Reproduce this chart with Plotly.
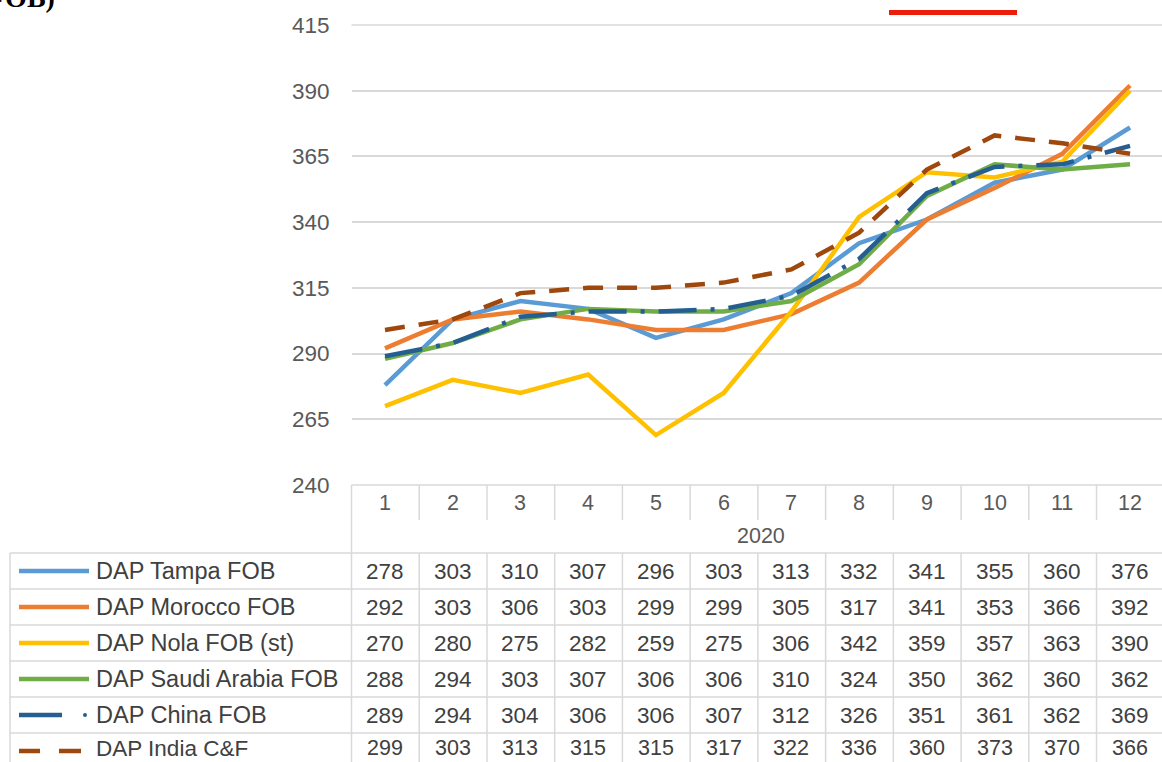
import plotly.graph_objects as go

W, H = 1162, 762
months = [1, 2, 3, 4, 5, 6, 7, 8, 9, 10, 11, 12]
year_label = "2020"
y_ticks = [240, 265, 290, 315, 340, 365, 390, 415]

names = ["DAP Tampa FOB", "DAP Morocco FOB", "DAP Nola FOB (st)",
         "DAP Saudi Arabia FOB", "DAP China FOB", "DAP India C&F"]
tampa = [278, 303, 310, 307, 296, 303, 313, 332, 341, 355, 360, 376]
morocco = [292, 303, 306, 303, 299, 299, 305, 317, 341, 353, 366, 392]
nola = [270, 280, 275, 282, 259, 275, 306, 342, 359, 357, 363, 390]
saudi = [288, 294, 303, 307, 306, 306, 310, 324, 350, 362, 360, 362]
china = [289, 294, 304, 306, 306, 307, 312, 326, 351, 361, 362, 369]
india = [299, 303, 313, 315, 315, 317, 322, 336, 360, 373, 370, 366]
series = [tampa, morocco, nola, saudi, china, india]

colors = ["#5b9bd5", "#ed7d31", "#ffc000", "#70ad47", "#255e91", "#9e480e"]
dashes = ["solid", "solid", "solid", "solid", "38px,14px,4px,14px", "20px,14px"]

def px(x):
    return x / W

def py(y):
    return 1 - y / H

# plot geometry (pixels)
PL, PR = 351.5, 1162
PT, PB = 25, 485
cat_w = 67.73
x1_px = 385
xr0 = 1 - (x1_px - PL) / cat_w
xr1 = 12 + (PR - (x1_px + 11 * cat_w)) / cat_w

fig = go.Figure()
for name, vals, c, d in zip(names, series, colors, dashes):
    fig.add_trace(go.Scatter(x=months, y=vals, mode="lines", name=name,
                             line=dict(color=c, width=4.5, dash=d),
                             showlegend=False, hoverinfo="x+y+name"))

grid = "#d9d9d9"
font_main = "Liberation Sans, Arial, sans-serif"
txt = "#404040"

fig.update_layout(
    width=W, height=H, margin=dict(l=0, r=0, t=0, b=0, pad=0, autoexpand=False),
    paper_bgcolor="white", plot_bgcolor="white",
    xaxis=dict(domain=[px(PL), 1], range=[xr0, xr1], showgrid=False,
               showticklabels=False, zeroline=False, showline=False, ticks="",
               automargin=False),
    yaxis=dict(domain=[py(PB), py(PT)], range=[240, 415], tickvals=y_ticks,
               showgrid=True, gridcolor=grid, gridwidth=1.5, zeroline=False,
               showline=False, ticks="", ticklabelstandoff=21, automargin=False,
               tickfont=dict(family=font_main, size=22.5, color="#595959")),
)

shapes = []
def hline(y, x0, x1):
    shapes.append(dict(type="line", xref="paper", yref="paper",
                       x0=px(x0), x1=px(x1), y0=py(y), y1=py(y),
                       line=dict(color=grid, width=1.5)))

def vline(x, y0, y1):
    shapes.append(dict(type="line", xref="paper", yref="paper",
                       x0=px(x), x1=px(x), y0=py(y0), y1=py(y1),
                       line=dict(color=grid, width=1.5)))

# top gridline (415) and header area
hline(PT, PL, W)
hline(485, PL, W)
hline(553, 10, W)
vline(PL, 485, 762)
for k in range(1, 12):
    vline(PL + k * cat_w, 485, 520)
# data rows
row_tops = [553, 589, 625, 661, 697, 733]
for rt in row_tops[1:]:
    hline(rt, 10, W)
vline(10, 553, 762)
for k in range(1, 12):
    vline(PL + k * cat_w, 553, 762)

def note(x, y, text, size=19, color="#595959", xanchor="center", family=font_main):
    return dict(x=px(x), y=py(y), xref="paper", yref="paper", text=text,
                showarrow=False, xanchor=xanchor, yanchor="middle",
                font=dict(family=family, size=size, color=color))

ann = []
for i, m in enumerate(months):
    ann.append(note(x1_px + i * cat_w, 503, str(m), size=21.5))
ann.append(note((PL + W) / 2 + 4, 536, year_label, size=21.5))

for r, (name, vals, c) in enumerate(zip(names, series, colors)):
    cy = row_tops[r] + 18
    last = r == len(names) - 1
    tcy = cy - 3 if last else cy          # keep the last row's text inside the page
    lab_size = 22.5 if last else 23.5
    num_size = 21.5 if last else 22.5
    # legend key
    if r == 4:
        shapes.append(dict(type="line", xref="paper", yref="paper",
                           x0=px(19), x1=px(62), y0=py(cy), y1=py(cy),
                           line=dict(color=c, width=4.5)))
        shapes.append(dict(type="circle", xref="paper", yref="paper",
                           x0=px(83), x1=px(87), y0=py(cy - 2), y1=py(cy + 2),
                           fillcolor=c, line=dict(width=0)))
    elif r == 5:
        for a, b in [(19, 40), (59, 81)]:
            shapes.append(dict(type="line", xref="paper", yref="paper",
                               x0=px(a), x1=px(b), y0=py(cy), y1=py(cy),
                               line=dict(color=c, width=4.5)))
    else:
        shapes.append(dict(type="line", xref="paper", yref="paper",
                           x0=px(19), x1=px(89), y0=py(cy), y1=py(cy),
                           line=dict(color=c, width=4.5)))
    ann.append(note(94, tcy, name, size=lab_size, color=txt, xanchor="left"))
    for i, v in enumerate(vals):
        ann.append(note(x1_px + i * cat_w, tcy, str(v), size=num_size, color=txt))

# cropped title fragment top-left
ann.append(note(57, -3, "<b>FOB)</b>", size=28, color="black", xanchor="right",
                family="Liberation Serif, serif"))
# cropped legend fragment top-right
shapes.append(dict(type="rect", xref="paper", yref="paper",
                   x0=px(889), x1=px(1017), y0=py(15), y1=py(10),
                   fillcolor="#ee1c0a", line=dict(width=0)))
ann.append(note(1028, -9, "Actuals", size=26, color="#f4a582", xanchor="left"))

fig.update_layout(shapes=shapes, annotations=ann)
fig.write_html("out.html", config={"displayModeBar": False})

# remove default page margin so the figure sits at the window's corner
with open("out.html", encoding="utf-8") as f:
    html = f.read()
html = html.replace("<head>", "<head><style>html,body{margin:0;padding:0;overflow:hidden;}</style>", 1)
with open("out.html", "w", encoding="utf-8") as f:
    f.write(html)
